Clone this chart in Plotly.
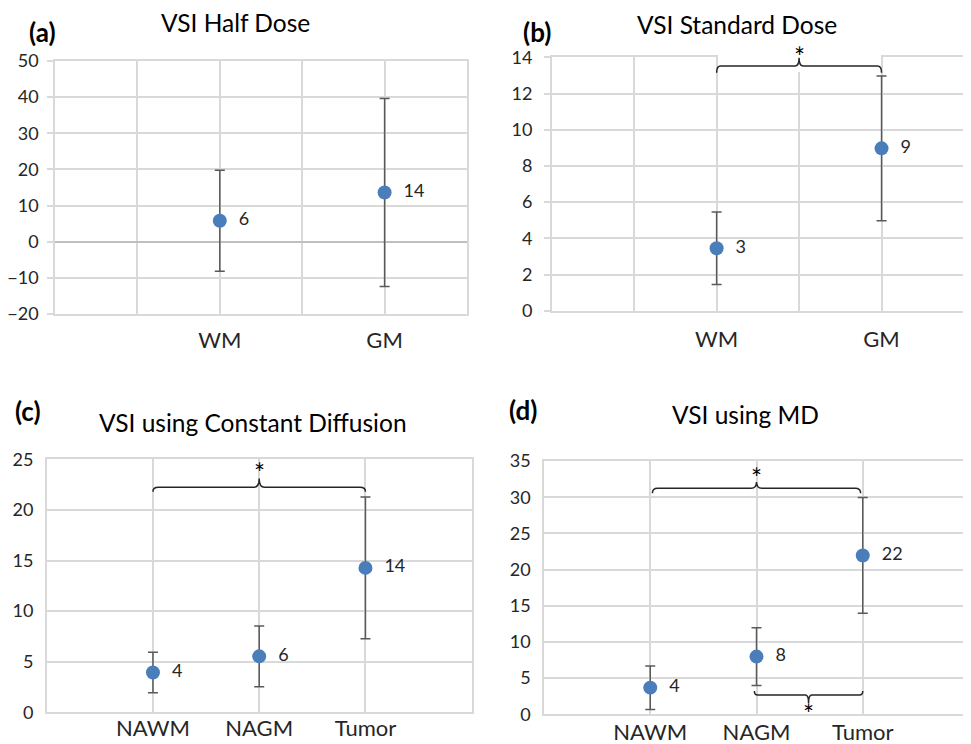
import plotly.graph_objects as go

# ---------------- data ----------------
cats_ab = ["WM", "GM"]
pos_ab = [2, 4]
half_mean = [5.8, 13.6]
half_err = [14.0, 26.0]
std_mean = [3.45, 8.97]
std_err = [2.0, 4.0]

cats_cd = ["NAWM", "NAGM", "Tumor"]
pos_cd = [1, 2, 3]
cd_mean = [3.93, 5.53, 14.27]
cd_err = [2.0, 3.0, 7.0]
md_mean = [3.68, 7.97, 21.95]
md_err = [3.0, 4.0, 8.0]

titles = ["VSI Half Dose", "VSI Standard Dose", "VSI using Constant Diffusion", "VSI using MD"]
panel_tags = ["(a)", "(b)", "(c)", "(d)"]

FONT = "Lato, Open Sans, sans-serif"
BLUE = "#4a7ebb"
GRID = "#d9d9d9"
ERR = "#595959"
TXT = "#262626"
W, H = 971, 744
OFF = 8  # page offset of the plot div


def px(x):
    return (x - OFF) / W


def py(y):
    return 1 - (y - OFF) / H


fig = go.Figure()

panels = [
    dict(x=pos_ab, y=half_mean, e=half_err, cats=cats_ab, xr=[0, 5], yr=[-20, 50], dt=10,
         xd=[px(55), px(467)], yd=[py(314), py(61)], stand=6, ticks="outside", zero=True, ys=5),
    dict(x=pos_ab, y=std_mean, e=std_err, cats=cats_ab, xr=[0, 5], yr=[0, 14], dt=2,
         xd=[px(551.7), px(964)], yd=[py(310.7), py(57.3)], stand=8, ticks="outside", zero=False, ys=8),
    dict(x=pos_cd, y=cd_mean, e=cd_err, cats=cats_cd, xr=[0, 4], yr=[0, 25], dt=5,
         xd=[px(46.7), px(471.7)], yd=[py(712.3), py(459.3)], stand=-4, ticks="", zero=False, ys=8),
    dict(x=pos_cd, y=md_mean, e=md_err, cats=cats_cd, xr=[0, 4], yr=[0, 35], dt=5,
         xd=[px(544), px(969)], yd=[py(714.3), py(461)], stand=-2, ticks="", zero=False, ys=8),
]

layout = {}
for i, p in enumerate(panels):
    n = "" if i == 0 else str(i + 1)
    fig.add_trace(go.Scatter(
        x=p["x"], y=p["y"], mode="markers+text",
        xaxis="x" + n, yaxis="y" + n,
        marker=dict(color=BLUE, size=14),
        error_y=dict(type="data", array=p["e"], visible=True, color=ERR, thickness=1.5, width=5),
        texttemplate="  %{y:.0f}", textposition="middle right",
        textfont=dict(family=FONT, size=18, color=TXT),
        showlegend=False, cliponaxis=False,
    ))
    layout["xaxis" + n] = dict(
        domain=p["xd"], anchor="y" + n, range=p["xr"], automargin=False,
        tickmode="array", tickvals=p["x"], ticktext=p["cats"],
        showgrid=True, gridcolor=GRID, gridwidth=1.5,
        minor=dict(tickmode="linear", tick0=0, dtick=1, showgrid=True, gridcolor=GRID, gridwidth=1.5),
        showline=True, linecolor=GRID, linewidth=1.5, mirror=True,
        ticks="", zeroline=False, fixedrange=True,
        tickfont=dict(family=FONT, size=22, color=TXT), ticklabelstandoff=p["stand"],
    )
    layout["yaxis" + n] = dict(
        domain=p["yd"], anchor="x" + n, range=p["yr"], dtick=p["dt"], tick0=0, automargin=False,
        showgrid=True, gridcolor=GRID, gridwidth=1.5,
        showline=True, linecolor=GRID, linewidth=1.5, mirror=True,
        ticks=p["ticks"], ticklen=6, tickcolor=GRID, tickwidth=1.5,
        zeroline=p["zero"], zerolinecolor="#bfbfbf", zerolinewidth=1.5,
        tickfont=dict(family=FONT, size=18, color=TXT), ticklabelstandoff=p["ys"],
        fixedrange=True,
    )


def brace(x0, x1, yl, ye, yt, dx):
    xm = (x0 + x1) / 2
    return (f"M {x0},{ye} Q {x0},{yl} {x0 + dx},{yl} L {xm - dx},{yl} "
            f"Q {xm},{yl} {xm},{yt} Q {xm},{yl} {xm + dx},{yl} L {x1 - dx},{yl} "
            f"Q {x1},{yl} {x1},{ye}")


shapes = [
    # white cover behind the bracket in (b)
    dict(type="rect", xref="paper", yref="paper", x0=px(718), x1=px(881),
         y0=py(72), y1=py(54), fillcolor="white", line=dict(width=0), layer="above"),
    dict(type="path", xref="x2", yref="y2", path=brace(2.0, 4.0, 13.52, 13.15, 13.98, 0.05),
         line=dict(color=TXT, width=1.5)),
    dict(type="path", xref="x3", yref="y3", path=brace(1.0, 3.0, 22.23, 21.8, 23.1, 0.05),
         line=dict(color=TXT, width=1.5)),
    dict(type="path", xref="x4", yref="y4", path=brace(1.02, 2.98, 31.23, 30.55, 32.1, 0.05),
         line=dict(color=TXT, width=1.5)),
    dict(type="path", xref="x4", yref="y4", path=brace(1.98, 3.0, 2.67, 3.22, 1.55, 0.03),
         line=dict(color=TXT, width=1.5)),
]

annotations = []
title_pos = [(235, 23), (737, 25), (253, 423), (745, 415)]
tag_pos = [(42, 32), (537, 32), (28, 411), (523, 410)]
for t, (x, y) in zip(titles, title_pos):
    annotations.append(dict(text=t, x=px(x), y=py(y), xref="paper", yref="paper",
                            xanchor="center", yanchor="middle", showarrow=False,
                            font=dict(family=FONT, size=24.5, color="#000000")))
for t, (x, y) in zip(panel_tags, tag_pos):
    annotations.append(dict(text=f"<b>{t}</b>", x=px(x), y=py(y), xref="paper", yref="paper",
                            xanchor="center", yanchor="middle", showarrow=False,
                            font=dict(family=FONT, size=26, color="#000000")))
star_font = dict(family=FONT, size=26, color="#000000")
annotations += [
    dict(text="*", x=3, y=py(57), xref="x2", yref="paper", showarrow=False, font=star_font, yanchor="middle"),
    dict(text="*", x=2, y=23.6, xref="x3", yref="y3", showarrow=False, font=star_font, yanchor="middle"),
    dict(text="*", x=2, y=32.6, xref="x4", yref="y4", showarrow=False, font=star_font, yanchor="middle"),
    dict(text="*", x=2.49, y=py(714), xref="x4", yref="paper", showarrow=False, font=star_font, yanchor="middle"),
]

fig.update_layout(
    width=W, height=H, margin=dict(l=0, r=0, t=0, b=0, autoexpand=False),
    paper_bgcolor="white", plot_bgcolor="white",
    shapes=shapes, annotations=annotations,
    font=dict(family=FONT, color=TXT),
    **layout,
)

fig.write_html("out.html")
